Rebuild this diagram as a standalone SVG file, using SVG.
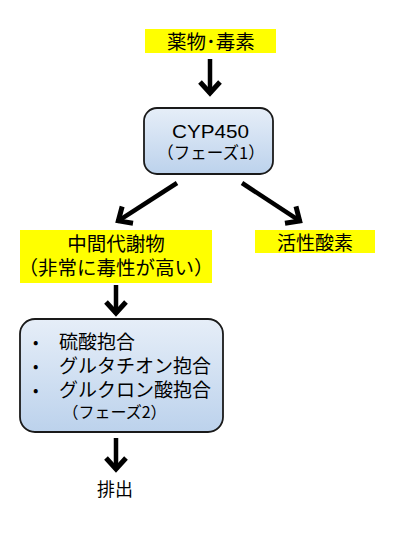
<svg xmlns="http://www.w3.org/2000/svg" width="400" height="542" viewBox="0 0 400 542">
<style>
text{font-family:"Liberation Sans","Noto Sans CJK JP",sans-serif;fill:#000}
.jp{font-family:"Noto Sans CJK JP","Liberation Sans",sans-serif}
.hl{fill:#ffff00}
.box{fill:url(#g);stroke:#1a1a1a;stroke-width:1.8}
.arr{fill:none;stroke:#000;stroke-width:4.5;marker-end:url(#ah)}
</style>
<defs>
<linearGradient id="g" x1="0" y1="0" x2="0" y2="1">
<stop offset="0" stop-color="#e6eef8"/>
<stop offset="1" stop-color="#bcd2ec"/>
</linearGradient>
<marker id="ah" viewBox="-15 -15 30 30" refX="0" refY="0" markerWidth="30" markerHeight="30" orient="auto" markerUnits="userSpaceOnUse" overflow="visible">
<path d="M-12,-10 L-1,0 L-12,10" fill="none" stroke="#000" stroke-width="5" stroke-linejoin="miter"/>
</marker>
</defs>
<g id="connectors">
<path class="arr" d="M210,59 L210,94"/>
<path class="arr" d="M177,183 L117.5,221.4"/>
<path class="arr" d="M242,183 L300.5,221.4"/>
<path class="arr" d="M116,285 L116,314"/>
<path class="arr" d="M116,438 L116,470"/>
</g>
<g id="n1">
<rect class="hl" x="145" y="29" width="131" height="24"/>
<text class="jp" x="211" y="48.5" font-size="19.5" text-anchor="middle">薬物･毒素</text>
</g>
<g id="n2">
<rect class="box" x="144" y="108" width="129" height="66" rx="13"/>
<text x="210.5" y="137.5" font-size="18" text-anchor="middle" textLength="77" lengthAdjust="spacingAndGlyphs">CYP450</text>
<text class="jp" x="211" y="159" font-size="16.5" text-anchor="middle">（フェーズ1）</text>
</g>
<g id="n3">
<rect class="hl" x="20" y="230" width="192" height="53"/>
<text class="jp" x="116" y="250.5" font-size="19.5" text-anchor="middle">中間代謝物</text>
<text class="jp" x="116" y="275" font-size="19.5" text-anchor="middle">（非常に毒性が高い）</text>
</g>
<g id="n4">
<rect class="hl" x="255" y="230" width="120" height="23"/>
<text class="jp" x="315" y="249.5" font-size="19" text-anchor="middle">活性酸素</text>
</g>
<g id="n5">
<rect class="box" x="20" y="319" width="203" height="113" rx="15"/>
<text class="jp" x="33" y="348" font-size="16">•</text>
<text class="jp" x="33" y="372" font-size="16">•</text>
<text class="jp" x="33" y="396" font-size="16">•</text>
<text class="jp" x="59" y="348.5" font-size="19">硫酸抱合</text>
<text class="jp" x="59" y="372.5" font-size="19">グルタチオン抱合</text>
<text class="jp" x="59" y="396.5" font-size="19">グルクロン酸抱合</text>
<text class="jp" x="114.5" y="418" font-size="16" text-anchor="middle">（フェーズ2）</text>
</g>
<g id="n6">
<text class="jp" x="115" y="496" font-size="18" text-anchor="middle">排出</text>
</g>
</svg>
